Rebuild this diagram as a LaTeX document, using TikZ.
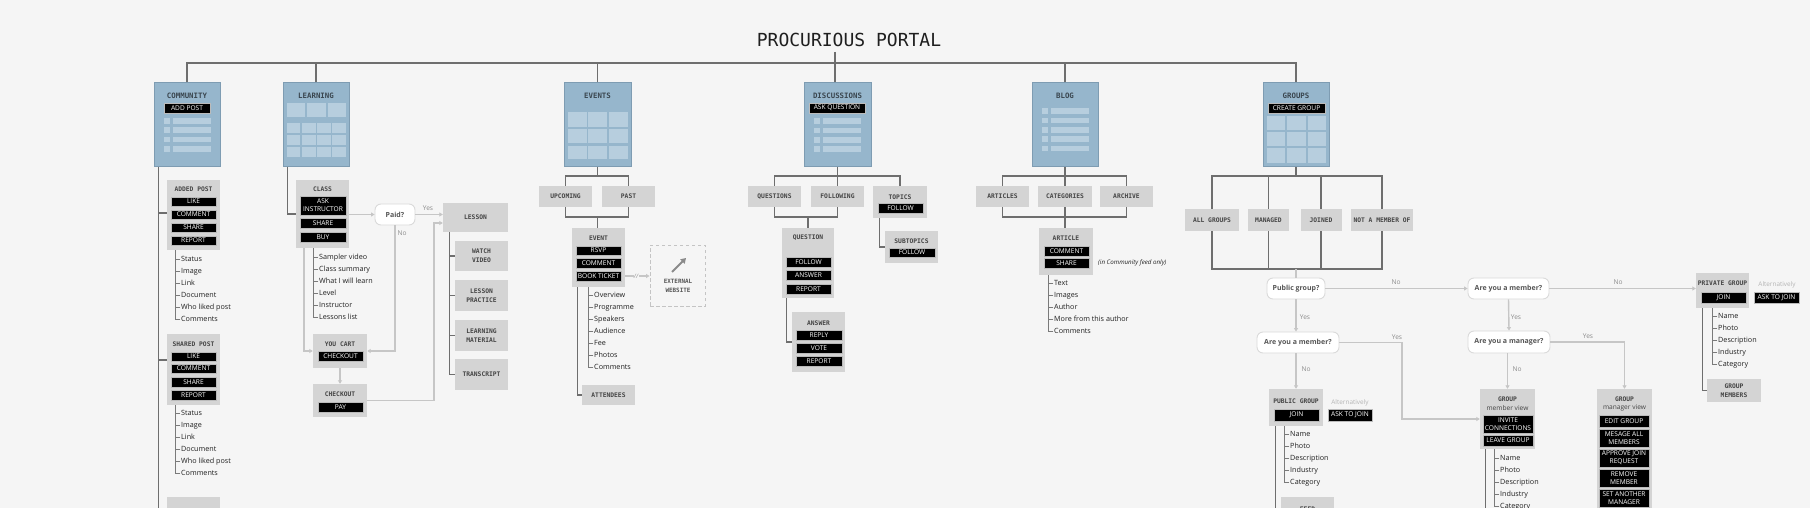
\documentclass[tikz,border=0pt]{standalone}
\usepackage{fontspec}
\setmainfont{Open Sans}
\newfontfamily\monof{DejaVu Sans Mono}
\usetikzlibrary{arrows.meta}
\definecolor{bg}{HTML}{F5F5F5}
\definecolor{treec}{HTML}{6E6E6E}
\definecolor{lstc}{HTML}{7A7A7A}
\definecolor{flowc}{HTML}{C6C6C6}
\definecolor{boxc}{HTML}{D4D4D4}
\definecolor{bluec}{HTML}{96B6CC}
\definecolor{blueb}{HTML}{7E9CB2}
\definecolor{cellc}{HTML}{B7CEDE}
\definecolor{lblc}{HTML}{444444}
\definecolor{bttl}{HTML}{3A464F}
\definecolor{btnb}{HTML}{BBBBBB}
\definecolor{itemc}{HTML}{202020}
\definecolor{decb}{HTML}{DADADA}
\definecolor{dect}{HTML}{555555}
\definecolor{ylc}{HTML}{8C8C8C}
\definecolor{altc}{HTML}{B5B5B5}
\definecolor{dashc}{HTML}{C4C4C4}
\definecolor{arrc}{HTML}{8A8A8A}
\tikzset{
  treeln/.style={draw=treec,line width=1.3pt},
  lst/.style={draw=lstc,line width=0.8pt,line cap=rect},
  flowln/.style={draw=flowc,line width=1.4pt},
  arr/.style={-{Triangle[length=3.5pt,width=4pt]}},
  graybox/.style={fill=boxc,draw=none,inner sep=0pt},
  bluebox/.style={fill=bluec,draw=blueb,line width=1pt,inner sep=0pt},
  lbl/.style={font=\monof\bfseries\fontsize{6.3}{9.3}\selectfont,text=lblc,inner sep=0pt,align=center},
  blbl/.style={font=\monof\bfseries\fontsize{7.4}{9}\selectfont,text=bttl,inner sep=0pt},
  btn/.style={fill=black,draw=btnb,line width=0.6pt,text=white,font=\fontsize{6.6}{8}\selectfont,inner sep=0pt,align=center},
  item/.style={font=\fontsize{7.2}{8}\selectfont,text=itemc,anchor=west,inner sep=0pt,text height=5.4pt,text depth=1.4pt},
  dec/.style={fill=white,draw=decb,line width=0.9pt,rounded corners=6pt,font=\bfseries\fontsize{7}{8}\selectfont,text=dect,inner sep=0pt},
  ylab/.style={font=\fontsize{6.6}{8}\selectfont,text=ylc,inner sep=0pt},
  alttxt/.style={font=\fontsize{6.4}{8}\selectfont,text=altc,inner sep=0pt},
  viewtxt/.style={font=\fontsize{6.6}{8}\selectfont,text=lblc,inner sep=0pt},
}
\newcommand\mkgbx[5]{\node[graybox,minimum width={#4-#2},minimum height={#5-#3}] (#1) at ({(#2+#4)/2},{(#3+#5)/2}) {};}
\newcommand\mkbbx[5]{\node[bluebox,minimum width={#4-#2},minimum height={#5-#3}] (#1) at ({(#2+#4)/2},{(#3+#5)/2}) {};}
\newcommand\mkbtn[6]{\node[btn,minimum width={#4-#2},minimum height={#5-#3}] (#1) at ({(#2+#4)/2},{(#3+#5)/2}) {#6};}
\newcommand\mkdec[6]{\node[dec,minimum width={#4-#2},minimum height={#5-#3}] (#1) at ({(#2+#4)/2},{(#3+#5)/2}) {#6};}
\newcommand\itemlist[5]{%
  \foreach \t [count=\k] in {#5} {%
    \pgfmathsetmacro\yy{#4+(\k-1)*12}
    \node[item] (#1\k) at ({#2+6},\yy) {\t};
    \ifnum\k=1
      \draw[lst] ([xshift=-1pt]#1\k.west) -- ({#2},\yy) -- ({#2},#3);
    \else
      \draw[lst] ([xshift=-1pt]#1\k.west) -- ({#2},\yy) -- ({#2},{\yy-12});
    \fi
  }%
}
\begin{document}
\begin{tikzpicture}[x=1pt,y=-1pt]
\useasboundingbox (0,0) rectangle (1810,508);
\fill[bg] (0,0) rectangle (1810,508);

% ---------- title and top bar ----------
\node[font=\monof\fontsize{18}{18}\selectfont,text=black!88,inner sep=0pt] (title) at (849,40) {PROCURIOUS PORTAL};
\coordinate (tb) at (835,63);
\coordinate (tt) at (835,52);

% ---------- blue modules ----------
\mkbbx{comm}{154}{83}{220}{167}
\mkbbx{learn}{283}{83}{349}{167}
\mkbbx{ev}{564}{83}{631}{167}
\mkbbx{dis}{804}{83}{871}{167}
\mkbbx{blog}{1032}{83}{1098}{167}
\mkbbx{grp}{1263}{83}{1329}{167}

\draw[treeln] (tt) -- (tb |- dis.north);
\draw[treeln] (comm.north) -- (comm.north |- tb) -- (grp.north |- tb) -- (grp.north);
\draw[treeln] (learn.north) -- (learn.north |- tb);
\draw[treeln] (ev.north) -- (ev.north |- tb);
\draw[treeln] (blog.north) -- (blog.north |- tb);

% community module
\node[blbl] (commt) at (187,96) {COMMUNITY};
\mkbtn{addpost}{164}{103}{210}{113}{ADD POST}
\foreach \r in {0,1,2,3}{\fill[cellc] (163.5,{118+9.3*\r}) rectangle (170,{123.7+9.3*\r}); \fill[cellc] (172.5,{118+9.3*\r}) rectangle (210.5,{123.7+9.3*\r});}
% learning module
\node[blbl] (learnt) at (316,96) {LEARNING};
\foreach \xa/\xb in {287/305.3,306.7/326,327.7/346} {\fill[cellc] (\xa,103.3) rectangle (\xb,117.3);}
\foreach \ya/\yb in {122.7/132.7,135/145,147.3/156.7}{\foreach \xa/\xb in {287/300.3,302/315.7,317.3/330.7,332.3/346} {\fill[cellc] (\xa,\ya) rectangle (\xb,\yb);}}
% events module
\node[blbl] (evt) at (597.5,96) {EVENTS};
\foreach \ya/\yb in {112.3/126.7,128.7/143.3,145.7/159.3}{\foreach \xa/\xb in {568.3/586.7,588.3/607.3,609/627.7} {\fill[cellc] (\xa,\ya) rectangle (\xb,\yb);}}
% discussions module
\node[blbl] (dist) at (837.5,96) {DISCUSSIONS};
\mkbtn{askq}{809}{103}{865}{113}{ASK QUESTION}
\foreach \r in {0,1,2,3}{\fill[cellc] (814,{118.3+9.3*\r}) rectangle (820,{124+9.3*\r}); \fill[cellc] (822.7,{118.3+9.3*\r}) rectangle (860.7,{124+9.3*\r});}
% blog module
\node[blbl] (blogt) at (1065,96) {BLOG};
\foreach \r in {0,1,2,3,4}{\fill[cellc] (1041.7,{108.3+9.35*\r}) rectangle (1048.3,{114+9.35*\r}); \fill[cellc] (1050.7,{108.3+9.35*\r}) rectangle (1089,{114+9.35*\r});}
% groups module
\node[blbl] (grpt) at (1296,96) {GROUPS};
\mkbtn{creg}{1268}{103}{1325}{113}{CREATE GROUP}
\foreach \ya/\yb in {116/130,132/146,148/162.7}{\foreach \xa/\xb in {1266.7/1285,1286.7/1305.7,1307.7/1326} {\fill[cellc] (\xa,\ya) rectangle (\xb,\yb);}}

% ---------- COMMUNITY subtree ----------
\draw[treeln] ([xshift=5pt]comm.south west) -- ++(0,360);
\mkgbx{ap}{167}{180}{220}{250}
\node[lbl] (apt) at (193.5,189) {ADDED POST};
\mkbtn{ap1}{171}{197}{216}{206}{LIKE}
\mkbtn{ap2}{171}{210}{216}{219}{COMMENT}
\mkbtn{ap3}{171}{223}{216}{232}{SHARE}
\mkbtn{ap4}{171}{236}{216}{245}{REPORT}
\itemlist{apl}{175}{250}{259}{Status,Image,Link,Document,Who liked post,Comments}
\coordinate (cb1) at (159,213);
\draw[treeln] (cb1) -- (cb1 -| ap.west);
\mkgbx{sp}{167}{334}{220}{405}
\node[lbl] (spt) at (193.5,344) {SHARED POST};
\mkbtn{sp1}{171}{352}{216}{361}{LIKE}
\mkbtn{sp2}{171}{364}{216}{373}{COMMENT}
\mkbtn{sp3}{171}{377}{216}{387}{SHARE}
\mkbtn{sp4}{171}{390}{216}{400}{REPORT}
\itemlist{spl}{175}{405}{413}{Status,Image,Link,Document,Who liked post,Comments}
\coordinate (cb2) at (159,360);
\draw[treeln] (cb2) -- (cb2 -| sp.west);
\mkgbx{cbot}{167}{497}{220}{530}

% ---------- LEARNING subtree ----------
\mkgbx{class}{296}{180}{349}{248}
\draw[treeln] ([xshift=5pt]learn.south west) |- (class.west);
\node[lbl] (classt) at (322.5,189) {CLASS};
\mkbtn{cl1}{300}{196}{346}{215}{ASK\\INSTRUCTOR}
\mkbtn{cl2}{300}{218}{346}{228}{SHARE}
\mkbtn{cl3}{300}{232}{346}{242}{BUY}
\itemlist{cll}{313}{248}{257}{Sampler video,Class summary,What I will learn,Level,Instructor,Lessons list}
\mkdec{paid}{375}{204}{415}{225}{Paid?}
\draw[flowln,arr] (class.east |- paid.west) -- (paid.west);
\mkgbx{lesson}{443}{203}{508}{232}
\node[lbl] (lessont) at (475.5,217.5) {LESSON};
\draw[flowln,arr] (paid.east) -- (paid.east -| lesson.west);
\node[ylab] (paidyes) at (428,208) {Yes};
\node[ylab] (paidno) at (402,233) {No};
\mkgbx{cart}{313}{334}{367}{368}
\node[lbl] (cartt) at (340,344) {YOU CART};
\mkbtn{cartb}{318}{351}{363}{361}{CHECKOUT}
\draw[flowln,arr] (paid.south) |- (cart.east);
\draw[flowln,arr] ([xshift=8pt]class.south west) |- (cart.west);
\mkgbx{co}{313}{384}{367}{417}
\node[lbl] (cot) at (340,394) {CHECKOUT};
\mkbtn{pay}{318}{402}{363}{412}{PAY}
\draw[flowln,arr] (cart.south) -- (co.north);
\coordinate (lk) at (434,223);
\draw[flowln,arr] (co.east) -| (lk) -- (lk -| lesson.west);
\mkgbx{wv}{455}{241}{508}{271}
\node[lbl] (wvt) at (481.5,256) {WATCH\\VIDEO};
\mkgbx{lp}{455}{280}{508}{311}
\node[lbl] (lpt) at (481.5,295.5) {LESSON\\PRACTICE};
\mkgbx{lm}{455}{320}{508}{351}
\node[lbl] (lmt) at (481.5,335.5) {LEARNING\\MATERIAL};
\mkgbx{tr}{455}{359}{508}{390}
\node[lbl] (trt) at (481.5,374.5) {TRANSCRIPT};
\draw[treeln] ([xshift=7pt]lesson.south west) |- (tr.west);
\draw[treeln] (wv.west) -- ++(-5,0);
\draw[treeln] (lp.west) -- ++(-5,0);
\draw[treeln] (lm.west) -- ++(-5,0);

% ---------- EVENTS subtree ----------
\mkgbx{up}{539}{186}{592}{207}
\node[lbl] (upt) at (565.5,196.5) {UPCOMING};
\mkgbx{past}{602}{186}{655}{207}
\node[lbl] (pastt) at (628.5,196.5) {PAST};
\coordinate (e1) at (597.5,176);
\coordinate (e2) at (597.5,217);
\draw[treeln] (ev.south) -- (e1);
\draw[treeln] (up.north) |- (e1) -| (past.north);
\draw[treeln] (up.south) |- (e2) -| (past.south);
\mkgbx{event}{572}{228}{625}{287}
\draw[treeln] (e2) -- (e2 |- event.north);
\node[lbl] (eventt) at (598.5,238) {EVENT};
\mkbtn{ev1}{576}{246}{621}{255}{RSVP}
\mkbtn{ev2}{576}{258}{621}{268}{COMMENT}
\mkbtn{ev3}{576}{271}{621}{281}{BOOK TICKET}
\node[draw=dashc,dashed,dash pattern=on 3.5pt off 2.5pt,line width=0.9pt,minimum width=55,minimum height=61,inner sep=0pt] (ext) at (677.5,275.5) {};
\draw[flowln,arr] (event.east |- ev3.east) -- (ev3.east -| ext.west);
\node[fill=bg,inner sep=0.4pt,font=\itshape\fontsize{6}{6}\selectfont,text=ylc] (brk) at (636,276) {//};
\draw[line width=1.8pt,draw=arrc,-{Triangle[length=5pt,width=6pt]}] (672,272) -- (686,258);
\node[lbl,text=dect,font=\monof\bfseries\fontsize{5.9}{9}\selectfont] (extt) at (678,285.5) {EXTERNAL\\WEBSITE};
\itemlist{evl}{588}{287}{295}{Overview,Programme,Speakers,Audience,Fee,Photos,Comments}
\mkgbx{att}{582}{385}{635}{405}
\node[lbl] (attt) at (608.5,395) {ATTENDEES};
\draw[treeln] ([xshift=6pt]event.south west) |- (att.west);

% ---------- DISCUSSIONS subtree ----------
\mkgbx{qs}{748}{186}{801}{207}
\node[lbl] (qst) at (774.5,196.5) {QUESTIONS};
\mkgbx{fol}{811}{186}{864}{207}
\node[lbl] (folt) at (837.5,196.5) {FOLLOWING};
\mkgbx{tp}{873}{186}{927}{218}
\node[lbl] (tpt) at (900,197) {TOPICS};
\mkbtn{tpb}{878}{203}{923}{213}{FOLLOW}
\coordinate (d1) at (837.5,176);
\draw[treeln] (dis.south) -- (d1);
\draw[treeln] (qs.north) |- (d1) -| (tp.north);
\draw[treeln] (fol.north) -- (fol.north |- d1);
\mkgbx{q}{782}{228}{834}{298}
\coordinate (d2) at (808,217);
\draw[treeln] (qs.south) |- (d2) -| (fol.south);
\draw[treeln] (d2) -- (q.north);
\node[lbl] (qt) at (808,238) {QUESTION};
\mkbtn{q1}{786}{257}{831}{267}{FOLLOW}
\mkbtn{q2}{786}{270}{831}{280}{ANSWER}
\mkbtn{q3}{786}{284}{831}{294}{REPORT}
\mkgbx{ans}{792}{312}{845}{372}
\draw[treeln] ([xshift=5pt]q.south west) |- (ans.west);
\node[lbl] (anst) at (818.5,323) {ANSWER};
\mkbtn{a1}{796}{330}{842}{340}{REPLY}
\mkbtn{a2}{796}{343}{842}{353}{VOTE}
\mkbtn{a3}{796}{356}{842}{366}{REPORT}
\mkgbx{sub}{885}{231}{938}{263}
\draw[treeln] ([xshift=7pt]tp.south west) |- (sub.west);
\node[lbl] (subt) at (911.5,241) {SUBTOPICS};
\mkbtn{subb}{889}{248}{935}{257}{FOLLOW}

% ---------- BLOG subtree ----------
\mkgbx{art}{976}{186}{1029}{207}
\node[lbl] (artt) at (1002.5,196.5) {ARTICLES};
\mkgbx{cat}{1038}{186}{1092}{207}
\node[lbl] (catt) at (1065,196.5) {CATEGORIES};
\mkgbx{arc}{1100}{186}{1153}{207}
\node[lbl] (arct) at (1126.5,196.5) {ARCHIVE};
\coordinate (b1) at (1065,176);
\coordinate (b2) at (1065,217);
\draw[treeln] (blog.south) -- (b1);
\draw[treeln] (art.north) |- (b1) -| (arc.north);
\draw[treeln] (cat.north) -- (b1);
\draw[treeln] (art.south) |- (b2) -| (arc.south);
\mkgbx{article}{1039}{228}{1093}{275}
\draw[treeln] (cat.south) -- (b2) -- (b2 |- article.north);
\node[lbl] (articlet) at (1066,238) {ARTICLE};
\mkbtn{ar1}{1044}{246}{1089}{256}{COMMENT}
\mkbtn{ar2}{1044}{258}{1089}{268}{SHARE}
\node[anchor=west,font=\itshape\fontsize{6.2}{8}\selectfont,inner sep=0pt,text=itemc] (note) at (1098,263) {(in Community feed only)};
\itemlist{bll}{1048}{275}{283}{Text,Images,Author,More from this author,Comments}

% ---------- GROUPS subtree ----------
\mkgbx{ag}{1185}{209}{1239}{231}
\node[lbl] (agt) at (1212,220) {ALL GROUPS};
\mkgbx{mg}{1248}{209}{1289}{231}
\node[lbl] (mgt) at (1268.5,220) {MANAGED};
\mkgbx{jn}{1300.5}{209}{1341.5}{231}
\node[lbl] (jnt) at (1321,220) {JOINED};
\mkgbx{nm}{1351}{209}{1413}{231}
\node[lbl] (nmt) at (1382,220) {NOT A MEMBER OF};
\coordinate (g1) at (1296,176);
\coordinate (g2) at (1296,269);
\draw[treeln] (grp.south) -- (g1);
\draw[treeln] (ag.north) |- (g1) -| (nm.north);
\draw[treeln] (mg.north) -- (mg.north |- g1);
\draw[treeln] (jn.north) -- (jn.north |- g1);
\draw[treeln] (ag.south) |- (g2) -| (nm.south);
\draw[treeln] (mg.south) -- (mg.south |- g2);
\draw[treeln] (jn.south) -- (jn.south |- g2);
\mkdec{pg}{1267}{278}{1325}{299}{Public group?}
\draw[flowln] (g2) -- (pg.north);
\mkdec{m1}{1257}{332}{1339}{353}{Are you a member?}
\mkdec{m2}{1468}{278}{1549}{299}{Are you a member?}
\mkdec{mgr}{1468}{331}{1550}{353}{Are you a manager?}
\draw[flowln,arr] (pg.south) -- (pg.south |- m1.north);
\node[ylab] (pgyes) at (1305,317) {Yes};
\draw[flowln,arr] (pg.east) -- (m2.west);
\node[ylab] (pgno) at (1396,282) {No};
\mkgbx{pubg}{1269}{389}{1323}{426}
\draw[flowln,arr] (pubg.north |- m1.south) -- (pubg.north);
\node[ylab] (m1no) at (1306,369) {No};
\mkgbx{gmv}{1480}{389}{1535}{449}
\coordinate (yk) at (1402,342.5);
\draw[flowln,arr] (m1.east) -- (yk) |- (gmv.west);
\node[ylab] (m1yes) at (1397,337) {Yes};
\node[lbl] (pubgt) at (1296,401) {PUBLIC GROUP};
\mkbtn{pubj}{1274}{409}{1319}{421}{JOIN}
\node[alttxt] (alt1) at (1350,403) {Alternatively};
\mkbtn{pubask}{1328}{409}{1372}{421}{ASK TO JOIN}
\itemlist{pgl}{1284}{426}{434}{Name,Photo,Description,Industry,Category}
\draw[treeln] ([xshift=7pt]pubg.south west) -- ++(0,100);
\mkgbx{feed}{1281}{497}{1334}{530}
\node[lbl] (feedt) at (1307.5,509.5) {FEED};
% right side
\mkgbx{prg}{1696}{273}{1749}{308}
\draw[flowln,arr] (m2.east) -- (m2.east -| prg.west);
\node[ylab] (m2no) at (1618,282) {No};
\draw[flowln,arr] (m2.south) -- (mgr.north);
\node[ylab] (m2yes) at (1516,317) {Yes};
\draw[flowln,arr] (gmv.north |- mgr.south) -- (gmv.north);
\node[ylab] (mgrno) at (1517,369) {No};
\mkgbx{gmg}{1597}{389}{1652}{540}
\draw[flowln,arr] (mgr.east) -| (gmg.north);
\node[ylab] (mgryes) at (1588,336) {Yes};
% member view
\node[lbl] (gmvt) at (1507.5,399) {GROUP};
\node[viewtxt] (gmvs) at (1507.5,408) {member view};
\mkbtn{gv1}{1483}{415}{1533}{433}{INVITE\\CONNECTIONS}
\mkbtn{gv2}{1483}{435}{1533}{446}{LEAVE GROUP}
\itemlist{mvl}{1494}{449}{458}{Name,Photo,Description,Industry,Category}
\draw[treeln] ([xshift=6pt]gmv.south west) -- ++(0,80);
% manager view
\node[lbl] (gmgt) at (1624.5,399) {GROUP};
\node[viewtxt] (gmgs) at (1624.5,408) {manager view};
\mkbtn{gg1}{1599}{415}{1649}{427}{EDIT GROUP}
\mkbtn{gg2}{1599}{429}{1649}{447}{MESAGE ALL\\MEMBERS}
\mkbtn{gg3}{1599}{449}{1649}{467}{APPROVE JOIN\\REQUEST}
\mkbtn{gg4}{1599}{469}{1649}{487}{REMOVE\\MEMBER}
\mkbtn{gg5}{1599}{489}{1649}{507}{SET ANOTHER\\MANAGER}
% private group
\node[lbl] (prgt) at (1722.5,283) {PRIVATE GROUP};
\mkbtn{prj}{1701}{292}{1746}{303}{JOIN}
\node[alttxt] (alt2) at (1777,285) {Alternatively};
\mkbtn{prask}{1754}{292}{1799}{303}{ASK TO JOIN}
\itemlist{prl}{1712}{308}{316}{Name,Photo,Description,Industry,Category}
\mkgbx{gm}{1707}{379}{1761}{402}
\node[lbl] (gmt) at (1734,390.5) {GROUP\\MEMBERS};
\draw[treeln] ([xshift=7pt]prg.south west) |- (gm.west);
\end{tikzpicture}
\end{document}
